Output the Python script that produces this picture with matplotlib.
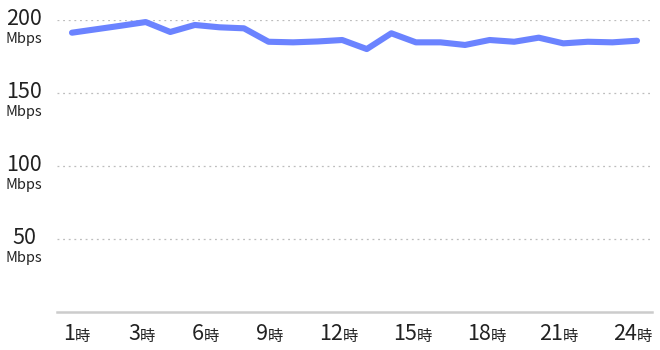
import matplotlib
matplotlib.use("Agg")
import matplotlib.pyplot as plt

plt.rcParams['font.family'] = ['Noto Sans CJK JP', 'DejaVu Sans']

# hourly speed (Mbps)
hours = list(range(1, 25))
speeds = [191.3, 193.7, 196.1, 198.6, 191.8, 196.6, 195.0, 194.3,
          185.1, 184.7, 185.3, 186.3, 180.1, 190.9, 184.7, 184.7,
          182.9, 186.3, 185.1, 187.9, 184.0, 185.1, 184.7, 185.8]

y_ticks = [50, 100, 150, 200]
x_labels = ['1', '3', '6', '9', '12', '15', '18', '21', '24']
# where each "時" starts along the x axis (layout, not data)
x_label_pos = [1.12, 3.77, 6.37, 8.98, 12.03, 15.05, 18.06, 20.99, 24.0]

fig = plt.figure(figsize=(6.6, 3.5), dpi=100)
ax = fig.add_axes([57 / 660, 38 / 350, 595 / 660, 292 / 350])

ax.plot(hours, speeds, color='#6b83ff', lw=4.4, solid_joinstyle='round',
        solid_capstyle='round', clip_on=False, zorder=3)

ax.set_xlim(0.39, 24.61)
ax.set_ylim(0, 200)

for v in y_ticks:
    ax.axhline(v, color='#bdbdbd', lw=0.9, ls=(0, (1.5, 3)), zorder=1)
    ax.annotate(str(v), xy=(0, v), xycoords=('axes fraction', 'data'),
                xytext=(-23.8, -3.6), textcoords='offset points',
                ha='center', va='baseline', fontsize=15.5, color='#222222')
    ax.annotate('Mbps', xy=(0, v), xycoords=('axes fraction', 'data'),
                xytext=(-23.8, -16.3), textcoords='offset points',
                ha='center', va='baseline', fontsize=10.5, color='#222222')

for lab, pos in zip(x_labels, x_label_pos):
    ax.annotate(lab, xy=(pos, 0), xycoords=('data', 'axes fraction'),
                xytext=(0, -20.2), textcoords='offset points',
                ha='right', va='baseline', fontsize=15.5, color='#222222')
    ax.annotate('時', xy=(pos, 0), xycoords=('data', 'axes fraction'),
                xytext=(0, -20.6), textcoords='offset points',
                ha='left', va='baseline', fontsize=11, color='#222222')

for s in ['top', 'right', 'left']:
    ax.spines[s].set_visible(False)
ax.spines['bottom'].set_color('#cccccc')
ax.spines['bottom'].set_linewidth(1.8)
ax.set_xticks([])
ax.set_yticks([])

fig.savefig('out.png', dpi=100)
